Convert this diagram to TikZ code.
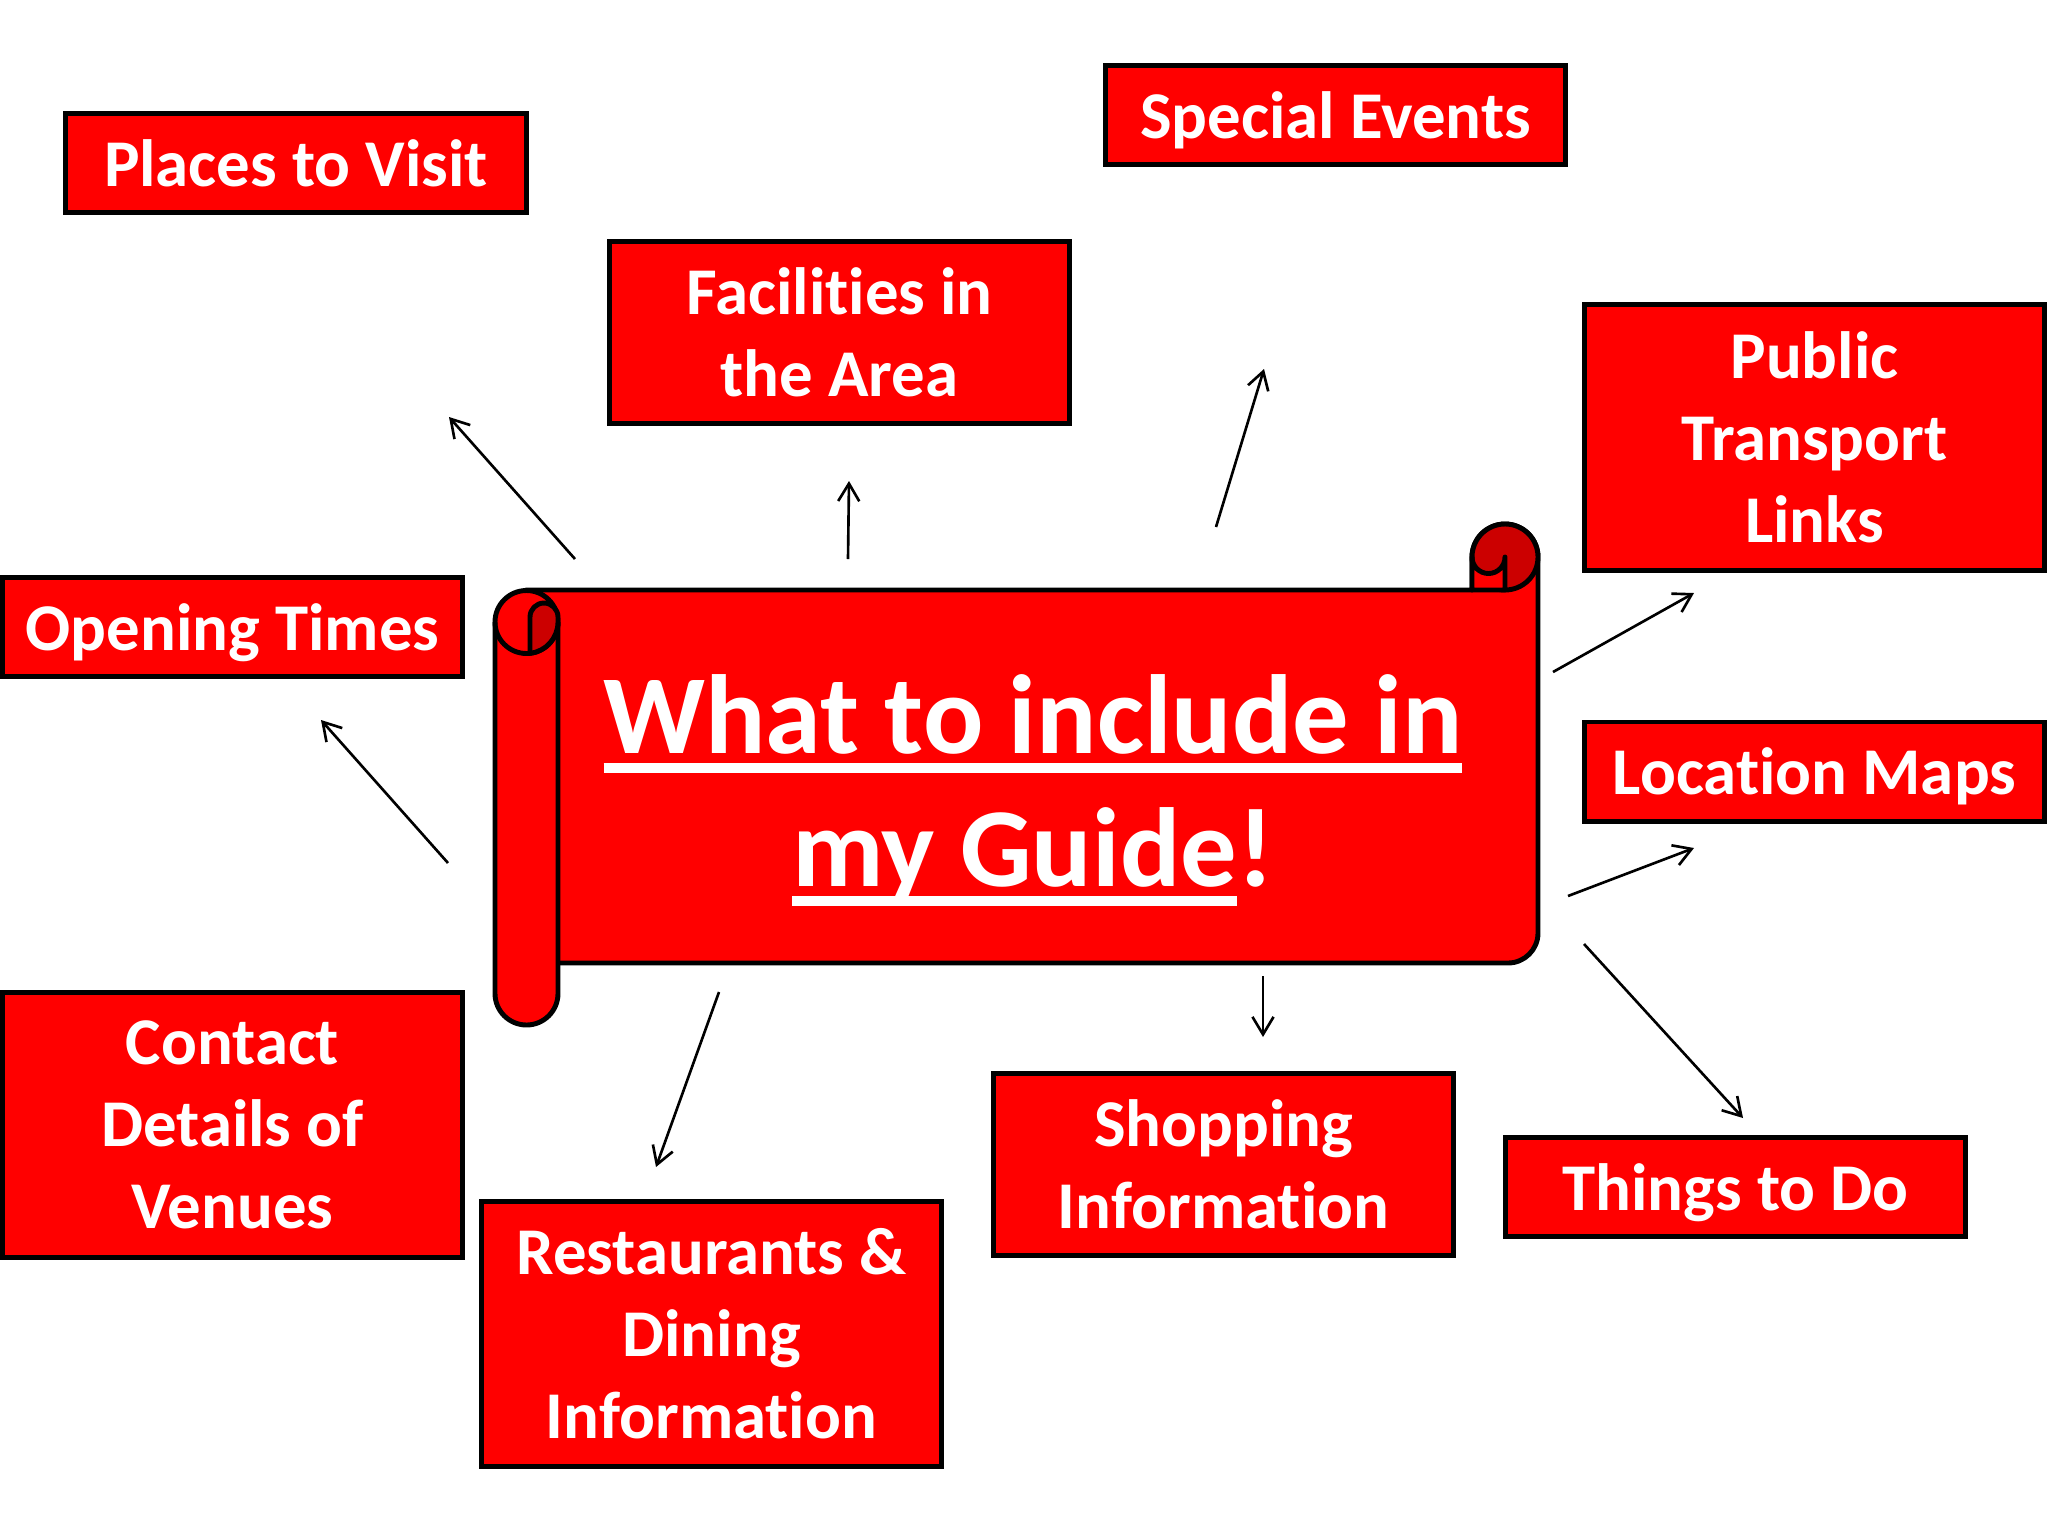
\documentclass[tikz,border=0pt]{standalone}
\usepackage{fontspec}
\setmainfont{Carlito}[Ligatures=NoCommon]
\usepackage{xcolor}
\usepackage{tikz}
\usetikzlibrary{arrows.meta}

\definecolor{boxred}{HTML}{FF0000}
\definecolor{curlred}{HTML}{CC0000}
% thick underline for the title
\newcommand\ulbar[1]{{\setbox0=\hbox{#1}\rlap{\rule[-5.5pt]{\wd0}{2.8pt}}\box0}}

\begin{document}
\begin{tikzpicture}[
    x=0.01cm, y=-0.01cm,
    box/.style={draw=black, line width=1.4pt, fill=boxred, text=white, minimum width=4.6cm, align=center, inner sep=2pt, font=\fontsize{19}{23.3}\selectfont\bfseries},
    box1/.style={box, minimum height=0.99cm, text depth=0pt},
    box2/.style={box, minimum height=1.82cm},
    box3/.style={box, minimum height=2.65cm},
    scroll/.style={draw=black, line width=1.4pt, fill=boxred, line join=round},
    curl/.style={scroll, fill=curlred},
    title/.style={text=white, align=center, inner sep=0pt, font=\fontsize{32}{37.8}\selectfont\bfseries},
    arr/.style={-{Straight Barb[length=5pt,width=6pt]}, line width=0.75pt}
]
\useasboundingbox (0,0) rectangle (2048,1536);

% Scroll body and left roll
\draw[scroll] (526,590) -- (1472,590) -- (1472,557) arc[start angle=180, end angle=360, radius=33] -- (1538,933) arc[start angle=0, end angle=90, radius=30] -- (526,963) -- cycle;
\draw[scroll] (495,622) arc[start angle=180, end angle=360, radius=31.5] -- (558,993.5) arc[start angle=0, end angle=180, radius=31.5] -- cycle;

% Left curl
\draw[line width=1.4pt] (495,622) arc[start angle=180, end angle=0, radius=31.5];
\draw[curl] (530,653.3) -- (530,617) arc[start angle=180, end angle=360, radius=14] -- (558,622) arc[start angle=0, end angle=83.6, radius=31.5] -- cycle;

% Right curl
\draw[curl] (1505,557) circle[radius=33];
\draw[scroll] (1472,557) arc[start angle=180, end angle=0, radius=16.5] -- (1505,590) -- (1472,590) -- cycle;

% Title
\node[title] (title) at (1033,790) {\ulbar{What to include in}\\\ulbar{my Guide}!};

% Topic boxes
\node[box1] (visit) at (296,163) {Places to Visit};
\node[box1] (events) at (1335.5,115) {Special Events};
\node[box2] (facilities) at (839.5,332.5) {Facilities in\\the Area};
\node[box3] (transport) at (1814.5,437.5) {Public\\Transport\\Links};
\node[box1] (opening) at (232.5,627) {Opening Times};
\node[box1] (maps) at (1814.5,771.5) {Location Maps};
\node[box3] (contact) at (232.5,1125) {Contact\\Details of\\Venues};
\node[box3] (restaurants) at (711.5,1334) {Restaurants \&\\Dining\\Information};
\node[box2] (shopping) at (1223.5,1164.5) {Shopping\\Information};
\node[box1] (things) at (1735.5,1187) {Things to Do};

% Arrow ends
\coordinate (s-visit) at (575,559);        \coordinate (e-visit) at (449,417);
\coordinate (s-facilities) at (848,559);   \coordinate (e-facilities) at (849,481);
\coordinate (s-events) at (1216,527);      \coordinate (e-events) at (1264,369);
\coordinate (s-transport) at (1553,672);   \coordinate (e-transport) at (1694,593);
\coordinate (s-maps) at (1568,896);        \coordinate (e-maps) at (1694,848);
\coordinate (s-things) at (1584,944);      \coordinate (e-things) at (1743,1118);
\coordinate (s-shopping) at (1263,976);    \coordinate (e-shopping) at (1263,1037);
\coordinate (s-restaurants) at (719,992);  \coordinate (e-restaurants) at (656,1167);
\coordinate (s-opening) at (448,863);      \coordinate (e-opening) at (321,720);

\draw[arr] (s-visit) -- (e-visit);
\draw[arr] (s-facilities) -- (e-facilities);
\draw[arr] (s-events) -- (e-events);
\draw[arr] (s-transport) -- (e-transport);
\draw[arr] (s-maps) -- (e-maps);
\draw[arr] (s-things) -- (e-things);
\draw[arr] (s-shopping) -- (e-shopping);
\draw[arr] (s-restaurants) -- (e-restaurants);
\draw[arr] (s-opening) -- (e-opening);
\end{tikzpicture}
\end{document}
